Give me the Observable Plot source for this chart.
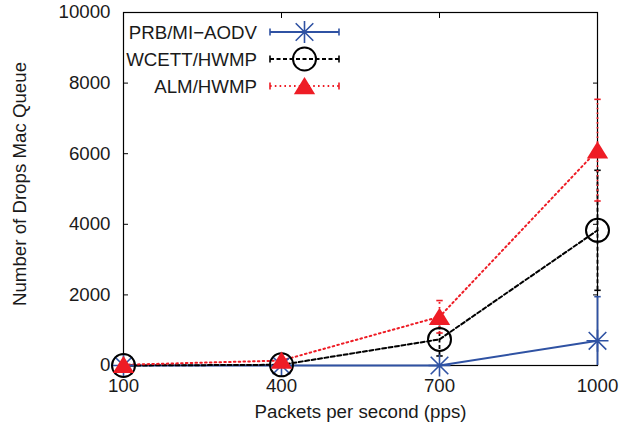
<!DOCTYPE html>
<html>
<head>
<meta charset="utf-8">
<script src="https://cdn.jsdelivr.net/npm/d3@7"></script>
<script src="https://cdn.jsdelivr.net/npm/@observablehq/plot@0.6"></script>
<style>
  html, body { margin: 0; padding: 0; background: #fff; }
  svg { display: block; }
</style>
</head>
<body>
<div id="chart"></div>
<script>
// ---- data ----
const pps = [100, 400, 700, 1000];
const seriesNames = ["PRB/MI\u2212AODV", "WCETT/HWMP", "ALM/HWMP"];
const prbValues = [0, 0, 0, 700];
const prbErrors = [0, 0, 0, 1250];
const wcettValues = [0, 20, 740, 3830];
const wcettErrors = [0, 20, 470, 1700];
const almValues = [20, 140, 1380, 6100];
const almErrors = [10, 60, 460, 1440];
const yTicks = [0, 2000, 4000, 6000, 8000, 10000];
const xTicks = [100, 400, 700, 1000];
const xLabel = "Packets per second (pps)";
const yLabel = "Number of Drops Mac Queue";

// ---- styles ----
const colors = ["#2f52a3", "#000000", "#ee1c25"];
const dashes = [null, "4,2.5", "1.6,3.2"];
const widths = [2, 2, 2];
const FS = 18.7;

const asterisk = {
  draw(ctx, size) {
    const r = Math.sqrt(size / Math.PI);
    const d = r * 0.8;
    ctx.moveTo(-r, 0); ctx.lineTo(r, 0);
    ctx.moveTo(0, -r); ctx.lineTo(0, r);
    ctx.moveTo(-d, -d); ctx.lineTo(d, d);
    ctx.moveTo(-d, d); ctx.lineTo(d, -d);
  }
};
const triangle = {
  draw(ctx, size) {
    const r = Math.sqrt(size / Math.PI);
    ctx.moveTo(0, -r * 0.82);
    ctx.lineTo(r * 0.97, r * 0.75);
    ctx.lineTo(-r * 0.97, r * 0.75);
    ctx.closePath();
  }
};
const cap = {
  draw(ctx, size) {
    const r = Math.sqrt(size / Math.PI);
    ctx.moveTo(-r, 0); ctx.lineTo(r, 0);
  }
};

const valueSets = [prbValues, wcettValues, almValues];
const errorSets = [prbErrors, wcettErrors, almErrors];
const rows = [];
seriesNames.forEach((name, s) => {
  pps.forEach((x, i) => {
    const v = valueSets[s][i], e = errorSets[s][i];
    rows.push({series: name, s, x, y: v, lo: Math.max(0, v - e), hi: v + e});
  });
});

const font = "'Liberation Sans', Arial, Helvetica, sans-serif";
const marks = [];

// error bars and lines per series
seriesNames.forEach((name, s) => {
  const d = rows.filter(r => r.s === s);
  marks.push(Plot.ruleX(d, {x: "x", y1: "lo", y2: "hi", stroke: colors[s], strokeWidth: 1.8, strokeDasharray: dashes[s]}));
  marks.push(Plot.dot(d, {x: "x", y: "hi", symbol: cap, r: 3.2, stroke: colors[s], strokeWidth: 1.6}));
  marks.push(Plot.dot(d.filter(r => r.lo > 0), {x: "x", y: "lo", symbol: cap, r: 3.2, stroke: colors[s], strokeWidth: 1.6}));
  marks.push(Plot.line(d, {x: "x", y: "y", stroke: colors[s], strokeWidth: widths[s], strokeDasharray: dashes[s]}));
});

// markers
marks.push(Plot.dot(rows.filter(r => r.s === 0), {x: "x", y: "y", symbol: asterisk, r: 11, stroke: colors[0], strokeWidth: 1.6}));
marks.push(Plot.dot(rows.filter(r => r.s === 1), {x: "x", y: "y", symbol: "circle", r: 11.5, stroke: colors[1], strokeWidth: 2, fill: "none"}));
marks.push(Plot.dot(rows.filter(r => r.s === 2), {x: "x", y: "y", symbol: triangle, r: 11, fill: colors[2], stroke: "none"}));

const chart = Plot.plot({
  width: 620,
  height: 427,
  marginLeft: 123,
  marginRight: 23,
  marginTop: 12,
  marginBottom: 62,
  style: {fontFamily: font, fontSize: FS + "px", color: "#1a1a1a", background: "#fff"},
  x: {domain: [100, 1000]},
  y: {domain: [0, 10000]},
  marks: [
    Plot.frame({stroke: "#000", strokeWidth: 1.2}),
    // inward ticks on all four sides
    Plot.axisY(yTicks, {anchor: "left", tickSize: 5, dx: 5, tickFormat: () => "", label: null, stroke: "#000"}),
    Plot.axisY(yTicks, {anchor: "right", tickSize: 5, dx: -5, tickFormat: () => "", label: null, stroke: "#000"}),
    Plot.axisX(xTicks, {anchor: "bottom", tickSize: 5, dy: -5, tickFormat: () => "", label: null, stroke: "#000"}),
    Plot.axisX(xTicks, {anchor: "top", tickSize: 5, dy: 5, tickFormat: () => "", label: null, stroke: "#000"}),
    // tick labels
    Plot.axisY(yTicks, {anchor: "left", tickSize: 0, tickPadding: 13, label: null, tickFormat: d => String(d), fontSize: FS}),
    Plot.axisX(xTicks, {anchor: "bottom", tickSize: 0, tickPadding: 13, label: null, tickFormat: d => String(d), fontSize: FS}),
    // axis titles
    Plot.text([xLabel], {frameAnchor: "bottom", dy: 47, lineAnchor: "middle", textAnchor: "middle", text: d => d, fontSize: FS, fill: "#1a1a1a"}),
    Plot.text([yLabel], {frameAnchor: "left", dx: -103, dy: -5, rotate: -90, lineAnchor: "middle", textAnchor: "middle", text: d => d, fontSize: FS, fill: "#1a1a1a"}),
    ...marks
  ]
});

// legend (gnuplot-style key inside the plot area)
const svg = d3.select(chart);
const key = svg.append("g").attr("font-family", font).attr("font-size", FS);
const keyTextRight = 257, sampleX1 = 270, sampleX2 = 339, keyY0 = 32, keyDy = 27;
const symDefs = [asterisk, d3.symbolCircle, triangle];
seriesNames.forEach((name, s) => {
  const y = keyY0 + s * keyDy;
  key.append("text").attr("x", keyTextRight).attr("y", y).attr("dy", "0.35em")
    .attr("text-anchor", "end").attr("fill", "#1a1a1a").text(name);
  key.append("line").attr("x1", sampleX1).attr("x2", sampleX2).attr("y1", y).attr("y2", y)
    .attr("stroke", colors[s]).attr("stroke-width", widths[s]).attr("stroke-dasharray", dashes[s]);
  [sampleX1, sampleX2].forEach(cx => key.append("line").attr("x1", cx).attr("x2", cx)
    .attr("y1", y - 3.5).attr("y2", y + 3.5).attr("stroke", colors[s]).attr("stroke-width", 1.6));
  const cx = (sampleX1 + sampleX2) / 2;
  const r = s === 1 ? 11.5 : 11;
  const p = key.append("path").attr("transform", `translate(${cx},${y})`)
    .attr("d", d3.symbol(symDefs[s], r * r * Math.PI)());
  if (s === 0) p.attr("fill", "none").attr("stroke", colors[0]).attr("stroke-width", 1.6);
  if (s === 1) p.attr("fill", "none").attr("stroke", colors[1]).attr("stroke-width", 2);
  if (s === 2) p.attr("fill", colors[2]);
});

document.getElementById("chart").appendChild(chart);
</script>
</body>
</html>
